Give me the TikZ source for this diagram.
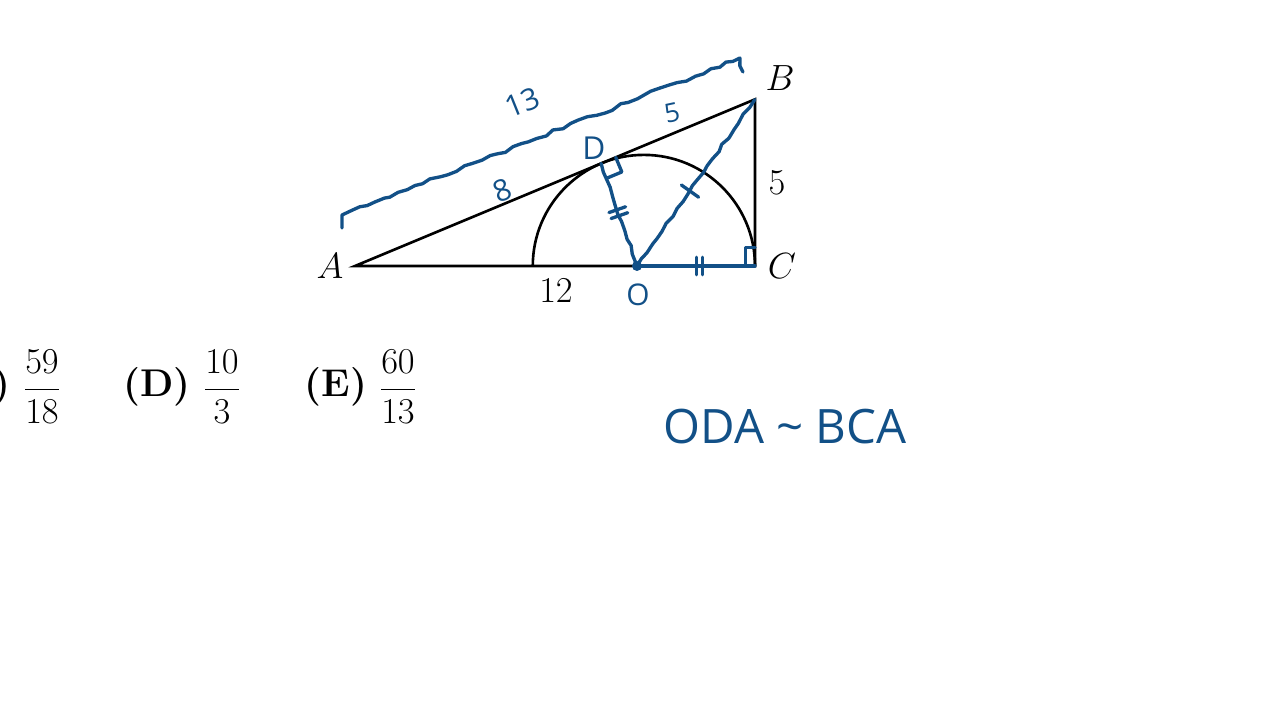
\documentclass[tikz,border=0pt]{standalone}
\usepackage{amsmath}
\usepackage{fontspec}
\newfontfamily\handfont{Open Sans}
\usetikzlibrary{calc, decorations.pathmorphing, decorations.markings}
\definecolor{ink}{RGB}{18,80,135}
\tikzset{>=latex}
\tikzset{
  edge/.style = {line width = 1.5pt, black},
  handline/.style = {line width = 1.9pt, ink, line cap = round, line join = round},
  wobbly/.style = {handline, decorate, decoration = {random steps, segment length = 5pt, amplitude = #1}},
  wobbly/.default = 0.7pt,
  handtext/.style = {text = ink, font = \handfont\fontsize{#1}{#1}\selectfont},
  onetick/.style = {decorate, decoration = {markings, mark = at position #1 with {\draw[handline] (0,-6pt) -- (0,6pt);}}},
  twoticks/.style = {decorate, decoration = {markings, mark = at position #1 with {\draw[handline] (-1.8pt,-5pt) -- (-1.8pt,5pt) (1.8pt,-5pt) -- (1.8pt,5pt);}}}
}

\begin{document}
\begin{tikzpicture}[x = 0.6667cm, y = 0.6667cm, font = \fontsize{22}{26}\selectfont]
\useasboundingbox (-10.65,-13.62) rectangle (27.75,7.98);
\coordinate (A) at (0,0);
\coordinate (C) at (12,0);
\coordinate (B) at (12,5);
\coordinate (D) at ({96/13},{40/13});
\coordinate (O) at (8.46,0);

% printed figure
\draw[edge, line join = miter] (A) -- (B) -- (C) -- cycle;
\draw[edge] (C) arc[start angle = 0, end angle = 180, radius = 10/3];
\node (labA) at (-0.75,0) {$A$};
\node (labB) at (12.75,5.64) {$B$};
\node (labC) at (12.81,0) {$C$};
\node (lab5) at (12.66,2.49) {$5$};
\node (lab12) at (6.03,-0.75) {$12$};

% answer choices
\node[font = \fontsize{22}{26}\selectfont\bfseries, inner sep = 0pt] (parC) at (-10.6,-3.63) {)};
\node (ansC) at (-9.39,-3.63) {$\dfrac{59}{18}$};
\node[font = \fontsize{22}{26}\selectfont\bfseries] (parD) at (-5.94,-3.63) {(D)};
\node (ansD) at (-3.99,-3.63) {$\dfrac{10}{3}$};
\node[font = \fontsize{22}{26}\selectfont\bfseries] (parE) at (-0.57,-3.63) {(E)};
\node (ansE) at (1.29,-3.63) {$\dfrac{60}{13}$};

% handwritten notes
\coordinate (br1) at (-0.39,1.14);
\coordinate (br2) at (-0.39,1.53);
\coordinate (br3) at (11.55,6.24);
\coordinate (br4) at (11.64,5.82);
\draw[wobbly = 1.1pt] (br1) -- (br2) -- (br3) -- (br4);
\node[handtext = 17, rotate = 22] (t13) at (5.01,4.9) {13};
\node[handtext = 17, rotate = 22] (t8) at (4.41,2.28) {8};
\node[handtext = 15, rotate = 12] (t5) at (9.51,4.59) {5};
\node[handtext = 18] (tD) at (7.17,3.54) {D};
\node[handtext = 17] (tO) at (8.49,-0.87) {O};

\draw[wobbly] (D) -- (O);
\draw[wobbly] (O) -- (B);
\draw[handline] (O) -- (C);
\fill[ink] (O) circle (0.15);
\path[twoticks = 0.48] (D) -- (O);
\path[onetick = 0.45] (O) -- (B);
\path[twoticks = 0.53] (O) -- (C);

% right angle marks
\draw[handline] ($(C)+(-0.28,0)$) -- ++(0,0.55) -- ++(0.28,0);
\coordinate (Dr) at ($(D)!9pt!(B)$);
\coordinate (Dq) at ($(Dr)!9pt!-90:(B)$);
\coordinate (Dp) at ($(D)!9pt!-90:(B)$);
\draw[handline] (Dr) -- (Dq) -- (Dp);

\node[handtext = 27] (sim) at (12.9,-4.83) {ODA \textasciitilde\ BCA};
\end{tikzpicture}
\end{document}
